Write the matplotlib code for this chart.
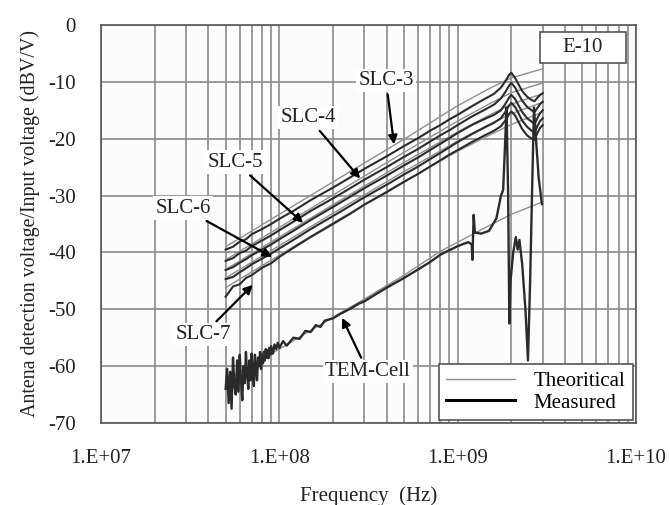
import numpy as np
import matplotlib
matplotlib.use('Agg')
import matplotlib.pyplot as plt
from matplotlib.ticker import FixedLocator, LogLocator, NullFormatter
import matplotlib.patches as patches

plt.rcParams['font.family'] = ['Liberation Serif', 'DejaVu Serif']
plt.rcParams['axes.unicode_minus'] = False

# measured SLC antenna responses (Hz, dBV/V)
f_slc = [5.0e7, 5.5e7, 6.0e7, 6.5e7, 7.0e7, 8.0e7, 9.0e7, 1.0e8, 1.2e8, 1.5e8,
         2.0e8, 2.5e8, 3.0e8, 4.0e8, 5.0e8, 6.0e8, 7.0e8, 8.0e8, 9.0e8, 1.0e9,
         1.2e9, 1.4e9, 1.6e9, 1.75e9, 1.85e9, 1.95e9, 2.0e9, 2.1e9, 2.2e9, 2.3e9,
         2.45e9, 2.6e9, 2.7e9, 2.8e9, 2.9e9, 3.0e9]

slc3 = [-39.5, -39.0, -38.1, -37.7, -36.8, -35.9, -35.0, -34.1, -32.7, -30.8,
        -28.6, -26.8, -25.3, -23.1, -21.3, -19.9, -18.6, -17.6, -16.6, -15.8,
        -14.3, -13.1, -12.1, -11.0, -9.9, -8.7, -8.4, -9.3, -10.5, -11.6,
        -12.6, -13.2, -13.4, -12.8, -12.3, -12.0]
slc4 = [-41.5, -41.0, -40.1, -39.7, -38.9, -37.9, -37.0, -36.1, -34.6, -32.7,
        -30.5, -28.7, -27.2, -25.0, -23.2, -21.8, -20.5, -19.4, -18.5, -17.6,
        -16.1, -15.0, -14.0, -12.9, -11.8, -10.6, -10.2, -11.0, -12.2, -13.3,
        -14.4, -15.0, -15.3, -14.6, -13.9, -13.5]
slc5 = [-43.1, -42.6, -41.8, -41.2, -40.5, -39.5, -38.6, -37.7, -36.2, -34.3,
        -32.0, -30.2, -28.7, -26.5, -24.7, -23.3, -22.0, -20.9, -19.9, -19.0,
        -17.6, -16.6, -15.8, -15.0, -13.9, -12.7, -12.3, -13.0, -14.2, -15.3,
        -16.4, -17.0, -17.4, -16.4, -15.5, -15.0]
slc6 = [-44.7, -44.3, -43.5, -42.8, -42.1, -41.1, -40.2, -39.3, -37.8, -35.9,
        -33.6, -31.8, -30.3, -28.1, -26.3, -24.9, -23.6, -22.5, -21.5, -20.6,
        -19.2, -18.1, -17.2, -16.4, -15.3, -14.1, -13.7, -14.4, -15.6, -16.8,
        -17.9, -18.6, -18.9, -17.8, -16.9, -16.4]
slc7 = [-47.8, -46.0, -45.6, -44.5, -44.0, -42.7, -41.9, -40.8, -39.2, -37.3,
        -35.0, -33.2, -31.6, -29.4, -27.6, -26.2, -24.9, -23.8, -22.8, -22.0,
        -20.6, -19.5, -18.6, -17.8, -16.8, -15.6, -15.2, -15.9, -17.1, -18.3,
        -19.4, -20.0, -20.2, -19.0, -18.1, -17.6]

# theoretical curves
f_th = [5.0e7, 1.0e8, 2.0e8, 5.0e8, 1.0e9, 1.5e9, 2.0e9, 3.0e9]
th3 = [-39.0, -33.3, -27.6, -20.1, -14.2, -11.2, -9.3, -7.7]
th4 = [-41.3, -35.6, -29.9, -22.4, -16.9, -13.9, -11.9, -10.2]
th5 = [-43.0, -37.3, -31.6, -24.2, -18.8, -15.9, -13.9, -12.1]
th6 = [-44.5, -38.8, -33.1, -25.8, -20.4, -17.5, -15.6, -13.6]
th7 = [-46.2, -40.5, -34.8, -27.5, -22.2, -19.4, -17.5, -15.3]

f_th_tem = [5.0e7, 1.0e8, 2.0e8, 3.0e8, 5.0e8, 8.0e8, 1.0e9, 1.5e9, 2.0e9, 3.0e9]
th_tem = [-62.5, -57.0, -51.4, -48.2, -44.0, -39.8, -38.2, -35.3, -33.3, -31.1]

# TEM-Cell measurement
f_tem = [5.0e7, 5.1e7, 5.2e7, 5.3e7, 5.4e7, 5.5e7, 5.6e7, 5.7e7, 5.8e7, 5.9e7,
         6.0e7, 6.1e7, 6.2e7, 6.3e7, 6.4e7, 6.5e7, 6.6e7, 6.7e7, 6.8e7, 6.9e7,
         7.0e7, 7.1e7, 7.2e7, 7.3e7, 7.4e7, 7.5e7, 7.6e7, 7.7e7, 7.8e7, 7.9e7,
         8.0e7, 8.1e7, 8.2e7, 8.3e7, 8.4e7, 8.5e7, 8.6e7, 8.7e7, 8.8e7, 8.9e7,
         9.0e7, 9.2e7, 9.4e7, 9.6e7, 9.8e7, 1.0e8, 1.05e8, 1.1e8, 1.2e8, 1.3e8,
         1.4e8, 1.5e8, 1.6e8, 1.7e8, 1.8e8, 2.0e8, 2.2e8, 2.5e8, 2.8e8, 3.0e8,
         3.5e8, 4.0e8, 5.0e8, 6.0e8, 7.0e8, 8.0e8, 9.0e8, 1.0e9, 1.1e9, 1.15e9,
         1.2e9, 1.21e9, 1.23e9, 1.25e9, 1.35e9, 1.5e9, 1.65e9, 1.75e9, 1.8e9, 1.85e9,
         1.88e9, 1.92e9, 1.95e9, 1.98e9, 2.05e9, 2.12e9, 2.17e9, 2.22e9, 2.3e9, 2.4e9,
         2.48e9, 2.55e9, 2.62e9, 2.68e9, 2.75e9, 2.85e9, 2.97e9]
tem = [-64.0, -60.5, -66.5, -61.0, -67.5, -58.5, -63.5, -65.0, -59.0, -64.5,
       -58.0, -62.5, -66.0, -60.0, -63.0, -57.5, -61.5, -64.0, -59.0, -62.5,
       -57.8, -61.0, -63.5, -58.0, -60.5, -62.5, -58.5, -60.0, -57.5, -60.5,
       -58.0, -59.5, -57.5, -59.0, -57.0, -58.5, -57.2, -58.6, -56.8, -58.0,
       -56.5, -57.8, -56.2, -57.0, -55.9, -56.8, -55.6, -56.4, -55.0, -55.2,
       -53.8, -54.0, -52.8, -53.1, -52.0, -51.6, -50.8, -49.9, -49.0, -48.6,
       -47.3, -46.2, -44.5, -43.0, -41.7, -40.4, -39.6, -38.9, -38.4, -38.2,
       -38.6, -41.3, -33.4, -36.5, -36.7, -36.2, -34.0, -30.0, -29.0, -20.0,
       -14.5, -30.0, -52.5, -45.0, -40.0, -37.3, -39.5, -37.8, -42.0, -50.0,
       -59.0, -45.0, -28.0, -14.5, -20.0, -27.0, -31.5]

xtick_vals = [1e7, 1e8, 1e9, 1e10]
xtick_labels = ['1.E+07', '1.E+08', '1.E+09', '1.E+10']
ytick_vals = [0, -10, -20, -30, -40, -50, -60, -70]

meas_color = '#2b2b2b'
theo_color = '#8f8f8f'
grid_color = '#8a8a8a'

fig = plt.figure(figsize=(6.7, 5.05), dpi=100)
ax = fig.add_axes([0.1507, 0.1624, 0.7985, 0.7881])
ax.set_facecolor('#fcfcfc')

for th in [th3, th4, th5, th6, th7]:
    ax.plot(f_th, th, color=theo_color, lw=1.0, zorder=3)
ax.plot(f_th_tem, th_tem, color=theo_color, lw=1.0, zorder=3)

for s in [slc3, slc4, slc5, slc6, slc7]:
    ax.plot(f_slc, s, color=meas_color, lw=1.5, zorder=4)
ax.plot(f_tem, tem, color=meas_color, lw=1.7, zorder=4)

ax.set_xscale('log')
ax.set_xlim(1e7, 1e10)
ax.set_ylim(-70, 0)
ax.xaxis.set_major_locator(FixedLocator(xtick_vals))
ax.set_xticklabels(xtick_labels)
ax.xaxis.set_minor_locator(LogLocator(base=10, subs=np.arange(2, 10)))
ax.xaxis.set_minor_formatter(NullFormatter())
ax.set_yticks(ytick_vals)
ax.grid(True, which='both', axis='x', color=grid_color, lw=1.2)
ax.grid(True, which='major', axis='y', color=grid_color, lw=1.2)
ax.set_axisbelow(True)
ax.tick_params(which='both', length=0, labelsize=15, colors='#222222')
ax.tick_params(axis='x', pad=19)
ax.tick_params(axis='y', pad=18)
for sp in ax.spines.values():
    sp.set_color('#555555')
    sp.set_linewidth(1.2)

ax.set_xlabel('Frequency  (Hz)', fontsize=15, color='#222222', labelpad=13)
ax.set_ylabel('Antena detection voltage/Input voltage (dBV/V)', fontsize=14.4,
              color='#222222', labelpad=6)

# curve labels with arrows
labels = [('SLC-3', (3.96e8, -9.7), (4.4e8, -21.0)),
          ('SLC-4', (1.45e8, -16.2), (2.84e8, -27.0)),
          ('SLC-5', (5.65e7, -24.1), (1.36e8, -34.8)),
          ('SLC-6', (2.89e7, -32.2), (9.1e7, -40.8)),
          ('SLC-7', (3.73e7, -54.5), (7.1e7, -45.7)),
          ('TEM-Cell', (3.14e8, -61.0), (2.25e8, -51.5))]
for txt, pos, tip in labels:
    ax.annotate(txt, xy=tip, xytext=pos, ha='center', va='center', fontsize=15,
                color='#222222', zorder=6,
                bbox=dict(boxstyle='square,pad=0.1', fc='white', ec='none'),
                arrowprops=dict(arrowstyle='-|>', color='black', lw=1.6,
                                mutation_scale=13, shrinkA=2, shrinkB=0))

# case tag in the upper right corner
ax.add_patch(patches.Rectangle((0.8206, 0.9045), 0.1607, 0.0775, transform=ax.transAxes,
                               fc='white', ec='#555555', lw=1.2, zorder=6))
ax.text(0.9009, 0.943, 'E-10', transform=ax.transAxes, ha='center', va='center',
        fontsize=15, color='#222222', zorder=7)

h1, = ax.plot([], [], color=theo_color, lw=1.0)
h2, = ax.plot([], [], color='black', lw=2.2)
leg = ax.legend([h1, h2], ['Theoritical', 'Measured'], loc='lower right',
                fontsize=15, frameon=True, fancybox=False, framealpha=1,
                edgecolor='#555555', borderaxespad=0.15, handlelength=3.3,
                handletextpad=0.9, labelspacing=0.1, borderpad=0.35)
leg.get_frame().set_linewidth(1.2)
leg.set_zorder(8)

fig.savefig('out.png', dpi=100)
